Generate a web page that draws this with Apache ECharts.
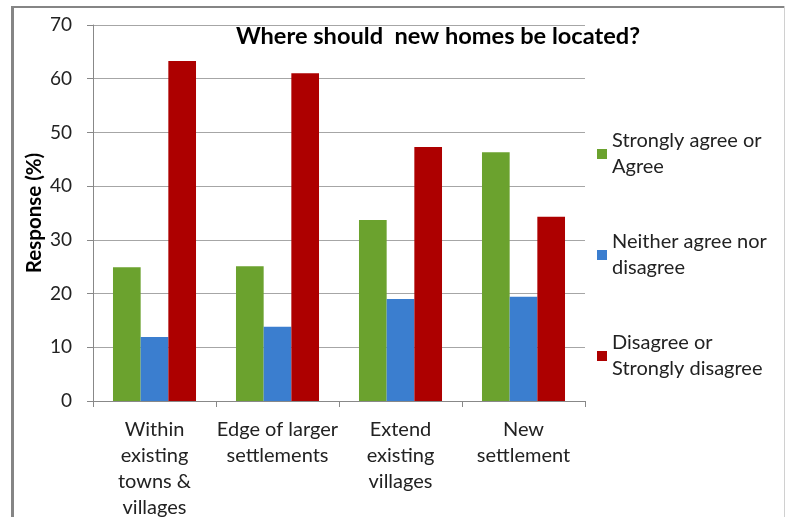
<!DOCTYPE html>
<html>
<head>
<meta charset="utf-8">
<script src="https://cdn.jsdelivr.net/npm/echarts@6/dist/echarts.min.js"></script>
<style>
html,body{margin:0;padding:0;background:#fff;}
#c{width:785px;height:517px;}
</style>
</head>
<body>
<div id="c"></div>
<script>
var categories = ['Within\nexisting\ntowns &\nvillages', 'Edge of larger\nsettlements', 'Extend\nexisting\nvillages', 'New\nsettlement'];
var seriesNames = ['Strongly agree or\nAgree', 'Neither agree nor\ndisagree', 'Disagree or\nStrongly disagree'];
var agree = [24.9, 25.1, 33.7, 46.3];
var neither = [11.9, 13.8, 19.0, 19.4];
var disagree = [63.3, 61.0, 47.3, 34.3];
var colors = ['#6ba22e', '#3b7ecf', '#ad0000'];

var FONT = 'Lato';
var chart = echarts.init(document.getElementById('c'));
var values = [agree, neither, disagree];
chart.setOption({
  animation: false,
  backgroundColor: '#fff',
  title: {
    text: 'Where should  new homes be located?',
    left: 438, top: 24, textAlign: 'center', padding: 0,
    textStyle: {fontFamily: FONT, fontSize: 23.6, fontWeight: 'bold', color: '#000'}
  },
  legend: {
    orient: 'vertical',
    left: 597, top: 115, padding: 0,
    itemWidth: 10, itemHeight: 10, itemGap: 23,
    icon: 'rect',
    textStyle: {fontFamily: FONT, fontSize: 20, color: '#222', lineHeight: 26, padding: [26, 0, 0, 0]},
    data: seriesNames
  },
  grid: {left: 93, width: 492, top: 25, height: 376, outerBoundsMode: 'none'},
  xAxis: {
    type: 'category',
    data: categories,
    axisLine: {lineStyle: {color: '#888', width: 1}},
    axisTick: {show: true, length: 6, lineStyle: {color: '#888'}},
    axisLabel: {fontFamily: FONT, fontSize: 20, color: '#222', lineHeight: 26, margin: 16, interval: 0}
  },
  yAxis: {
    type: 'value', min: 0, max: 70, interval: 10,
    name: 'Response (%)', nameLocation: 'middle', nameGap: 48, nameMoveOverlap: false,
    nameTextStyle: {fontFamily: FONT, fontSize: 20.5, fontWeight: 'bold', color: '#000'},
    axisLine: {show: true, lineStyle: {color: '#888'}},
    axisTick: {show: true, length: 6, lineStyle: {color: '#888'}},
    axisLabel: {fontFamily: FONT, fontSize: 19, color: '#222', margin: 21},
    splitLine: {lineStyle: {color: '#a6a6a6', width: 1}}
  },
  series: seriesNames.map(function (n, i) {
    return {
      name: n, type: 'bar', data: values[i],
      barGap: '0%', barCategoryGap: '32.5%',
      itemStyle: {color: colors[i]}
    };
  }),
  graphic: [
    {type: 'rect', shape: {x: 11, y: 6, width: 3, height: 520}, style: {fill: '#858585'}, silent: true},
    {type: 'rect', shape: {x: 11, y: 6, width: 780, height: 2}, style: {fill: '#858585'}, silent: true},
    {type: 'rect', shape: {x: 784, y: 6, width: 1, height: 520}, style: {fill: '#d0d0d0'}, silent: true}
  ]
});
</script>
</body>
</html>
